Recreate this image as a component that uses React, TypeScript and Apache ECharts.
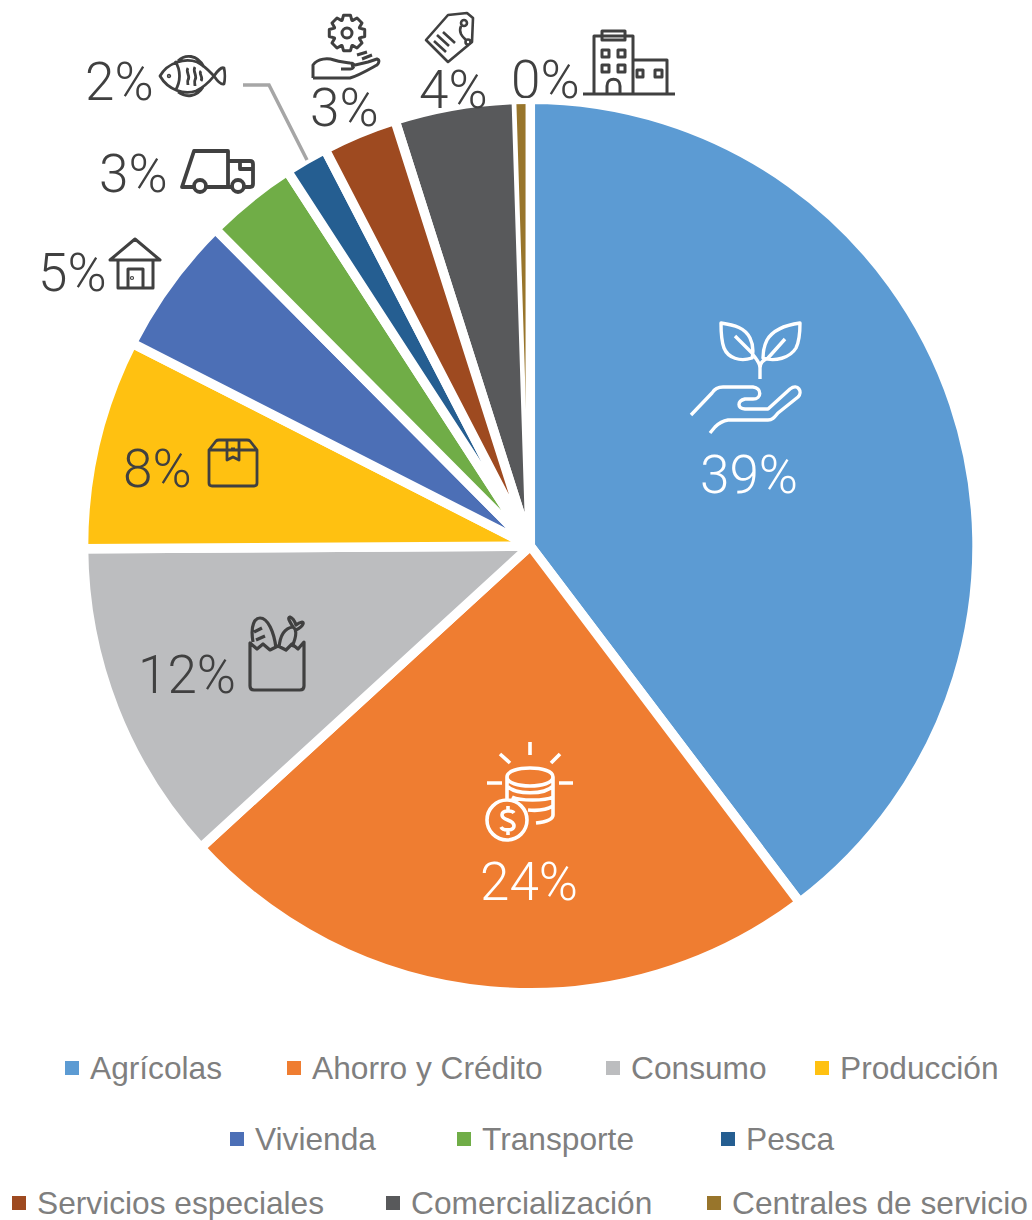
import React, { useEffect, useRef } from "react";
import * as echarts from "echarts";

const categories = ["Agrícolas", "Ahorro y Crédito", "Consumo", "Producción", "Vivienda", "Transporte", "Pesca", "Servicios especiales", "Comercialización", "Centrales de servicio"];
const values = [39.7, 23.5, 11.7, 7.6, 5.05, 3.3, 1.55, 2.7, 4.4, 0.5];
const percentLabels = ["39%", "24%", "12%", "8%", "5%", "3%", "2%", "3%", "4%", "0%"];
const colors = ["#5C9BD3", "#EF7D31", "#BCBDBF", "#FFC111", "#4C6FB6", "#70AD47", "#255E91", "#9E4A20", "#58595B", "#98752B"];
const labelColors = ["#fff", "#fff", "#404040", "#404040", "#404040", "#404040", "#404040", "#404040", "#404040", "#404040"];
const labelX = [700, 480, 138, 123, 38, 99, 85, 310, 419, 511];
const labelY = [475, 882, 675, 469, 273, 174, 82, 108, 90, 80];
const legendX = [65, 287, 606, 815, 230, 457, 721, 12, 386, 707];
const legendY = [1068, 1068, 1068, 1068, 1139, 1139, 1139, 1203, 1203, 1203];

const DARK = "#404040";
const FONT = "'Liberation Sans', Arial, sans-serif";
const LABEL_FONT = "Roboto, 'Liberation Sans', sans-serif";
const BORDER = 9.5;
const circle = (cx: number, cy: number, r: number) => `M${cx - r} ${cy}a${r} ${r} 0 1 0 ${2 * r} 0a${r} ${r} 0 1 0 ${-2 * r} 0Z`;
const rectP = (x: number, y: number, w: number, h: number) => `M${x} ${y}h${w}v${h}h${-w}Z`;
const gear = (cx: number, cy: number, ro: number, ri: number, n: number) => {
  const pts: string[] = [];
  for (let i = 0; i < n; i++) {
    const a = (i / n) * Math.PI * 2;
    const w = Math.PI / n;
    [[ri, -w * 0.95], [ro, -w * 0.5], [ro, w * 0.5], [ri, w * 0.95]].forEach(([r, d]) => {
      pts.push(`${(cx + r * Math.cos(a + d)).toFixed(1)} ${(cy + r * Math.sin(a + d)).toFixed(1)}`);
    });
  }
  return "M" + pts.join("L") + "Z";
};

const iconPaths: Record<string, string> = {
  iconFish:
    "M160 76C168 62 185 58 197 62C205 66 210 72 214 76C210 81 204 87 196 91C184 95 168 90 160 76Z" +
    "M214 76C218 70 222 67 224 68C225 72 225 80 224 84C221 85 218 82 214 76Z" +
    "M178 61C185 54 197 54 204 67M178 92C186 98 197 97 203 87M175 61C181 70 181 82 175 91" +
    "M188 68C185 72 191 76 188 80C187 82 188 84 188 85M195 67C192 71 198 76 195 80C194 82 195 84 195 86M201 71C198 74 204 77 201 81" +
    circle(169, 76, 0.8),
  iconTruck:
    "M194 187H182L194 151H228V187M206 187H232M244 187H250Q253 187 253 184V164Q253 161 250 161H228M240 161V169H253" +
    circle(200, 186, 6) + circle(238, 186, 6),
  iconHouse:
    "M110 260L135 239L160 260ZM118 260V288H153V260M128 288V269H143V288" + circle(132, 278, 0.6),
  iconBuilding:
    "M583 94H675M594 94V36H633V94M633 60H667V94M602 31H625V40H602Z" +
    rectP(602, 50, 7, 7) + rectP(618, 50, 7, 7) + rectP(602, 65, 7, 7) + rectP(618, 65, 7, 7) +
    rectP(637, 70, 6, 7) + rectP(655, 70, 7, 7) +
    "M607 94V86C607 77 620 77 620 86V94",
  iconTag:
    "M426 40L448 62L472 42L473 18L467 13L448 15Z" + circle(464, 23, 3) + circle(468, 42, 2.5) +
    "M461 26C458 33 463 37 466 40M437 35L449 46M443 32L455 43M434 41L446 52",
  iconHandGear:
    gear(347, 33, 18, 13.5, 8) + circle(347, 33, 5) +
    "M313 78V65C318 58 328 58 334 60C340 62 345 62 350 63C355 63 355 68 350 69H341" +
    "M351 66L368 62L377 59C380 60 379 63 377 65C368 70 358 76 350 78H313" +
    "M357 55L367 52M362 59L372 55",
  iconBox:
    "M209 450V483Q209 486 212 486H254Q257 486 257 483V450ZM209 450L216 441Q217 440 219 440H247Q249 440 250 441L257 450" +
    "M227 440V460L233 457L239 460V440M231 449H235",
  iconBag:
    "M250 643V686Q250 690 254 690H300Q304 690 304 686V642L298 649L292 644L286 650L278 646L270 650L263 644L257 649Z" +
    "M253 642C250 625 255 618 260 618C268 618 274 632 276 648M254 632L262 628M256 640L265 636" +
    "M279 648C280 635 285 628 293 627C298 630 295 640 292 647" +
    "M293 627C290 622 287 618 290 617C293 618 295 622 296 625C300 622 304 621 303 624C302 627 298 629 296 630",
  iconPlant:
    "M721 323C735 325 745 328 750 338C755 348 752 358 752 358C740 362 728 358 724 348C721 340 721 330 721 323Z" +
    "M800 323C785 325 773 330 767 340C763 348 763 358 763 358C775 362 790 358 796 348C800 340 800 330 800 323Z" +
    "M735 336L752 353C755 358 760 362 760 368V379M785 339L768 358C764 360 760 362 760 368" +
    "M691 415L712 393C715 388 719 387 723 387H753C762 388 762 399 753 399H745C737 401 737 408 745 409H768L790 389C798 383 803 392 798 397L778 413C774 418 772 420 768 420H728C722 421 718 424 715 427L710 433",
  iconCoins:
    "M530 742V755M500 754L510 763M560 754L551 763M487 783H502M559 783H573" +
    "M507 777C507 765 553 765 553 777C553 789 507 789 507 777Z" +
    "M507 777V799M553 777V815C553 820 545 822 536 823" +
    "M507 786C515 795 545 795 553 786M512 797C520 801 545 801 553 797M528 810C538 811 548 809 553 806" +
    circle(507, 820, 20) +
    "M514 813C512 810 502 810 502 815C502 821 514 819 514 826C514 831 503 831 501 827M508 806V811M508 830V835",
};
Object.keys(iconPaths).forEach((k) => {
  echarts.graphic.registerShape(k, echarts.graphic.extendPath(iconPaths[k], {}) as any);
});
const whiteIcons = ["iconPlant", "iconCoins"];
const iconWidths: Record<string, number> = {
  iconFish: 2.8, iconTruck: 3.8, iconHouse: 3, iconBuilding: 3, iconTag: 2.6, iconHandGear: 3, iconBox: 2.8, iconBag: 3.2, iconPlant: 3.4, iconCoins: 3.6,
};

// The pie starts at Comercialización so Servicios paints last over its neighbour, as in the picture.
const drawOrder = [8, 9, 0, 1, 2, 3, 4, 5, 6, 7];
const leadShare = (values[8] + values[9]) / values.reduce((a, b) => a + b, 0);

export default function App() {
  const ref = useRef<HTMLDivElement>(null);
  useEffect(() => {
    document.body.style.margin = "0";
    document.body.style.background = "#fff";
    const chart = echarts.init(ref.current!, undefined, { renderer: "svg" });
    chart.setOption({
      animation: false,
      backgroundColor: "#fff",
      color: colors,
      legend: categories.map((name, i) => ({
        show: true,
        data: [name],
        left: legendX[i],
        top: legendY[i] - 16,
        padding: 0,
        itemWidth: 14,
        itemHeight: 14,
        icon: "rect",
        selectedMode: false,
        itemStyle: { borderWidth: 0 },
        textStyle: { color: "#7F7F7F", fontSize: 31.7, fontFamily: FONT, padding: [0, 0, 0, 6] },
      })),
      series: [
        {
          type: "pie",
          center: [530.3, 546],
          radius: [0, 442 + BORDER / 2],
          startAngle: 90 + leadShare * 360,
          clockwise: true,
          avoidLabelOverlap: false,
          emphasis: { disabled: true },
          itemStyle: { borderColor: "#fff", borderWidth: BORDER },
          labelLine: { show: false },
          labelLayout: (p: any) => {
            const i = drawOrder[p.dataIndex];
            return { x: labelX[i], y: labelY[i], align: "left", verticalAlign: "middle" };
          },
          data: drawOrder.map((i) => ({
            name: categories[i],
            value: values[i],
            itemStyle: { color: colors[i], borderWidth: i === 9 ? 0 : BORDER },
            label: {
              show: true,
              formatter: percentLabels[i],
              color: labelColors[i],
              fontSize: 53,
              fontWeight: 300,
              fontFamily: LABEL_FONT,
            },
          })),
        },
      ],
      graphic: [
        {
          type: "sector",
          z: 5,
          silent: true,
          shape: { cx: 530.3, cy: 546, r: 448, r0: 442, startAngle: -Math.PI / 2 - 0.04, endAngle: -Math.PI / 2 + 0.005 },
          style: { fill: "#fff" },
        },
        { type: "polyline", z: 6, silent: true, shape: { points: [[243, 85], [269, 85], [307, 160]] }, style: { fill: "none", stroke: "#A6A6A6", lineWidth: 3.5 } },
        ...Object.keys(iconPaths).map((k) => ({
          type: k,
          z: 6,
          silent: true,
          style: {
            fill: "none",
            stroke: whiteIcons.includes(k) ? "#fff" : DARK,
            lineWidth: iconWidths[k],
            lineJoin: "round",
            lineCap: "butt",
          },
        })),
      ],
    });
    return () => chart.dispose();
  }, []);
  return <div ref={ref} style={{ width: 1032, height: 1220 }} />;
}
